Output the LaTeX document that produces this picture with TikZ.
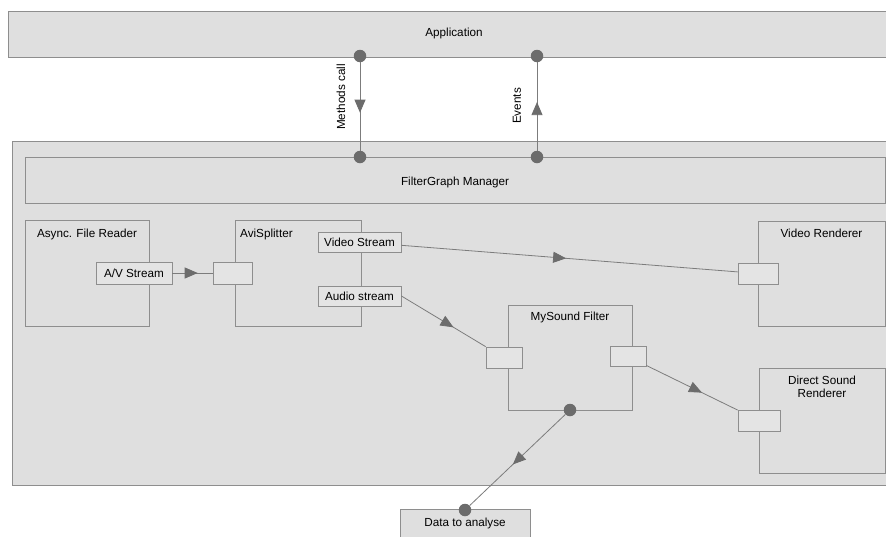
\documentclass[tikz,border=0pt]{standalone}
\usepackage{fontspec}
\setmainfont{Liberation Sans}
\usetikzlibrary{arrows.meta,decorations.markings}

\definecolor{boxgray}{HTML}{DFDFDF}
\definecolor{portgray}{HTML}{E4E4E4}
\definecolor{edgegray}{HTML}{8E8E8E}
\definecolor{linegray}{HTML}{7C7C7C}
\definecolor{dotgray}{HTML}{6C6C6C}

\tikzset{
  box/.style={draw=edgegray, fill=boxgray, line width=0.8pt, inner sep=0pt},
  port/.style={draw=edgegray, fill=portgray, line width=0.8pt, inner sep=0pt},
  title/.style={inner sep=0pt, align=center},
  dot/.style={circle, fill=dotgray, inner sep=0pt, minimum size=12.5pt},
  conn/.style={draw=linegray, line width=0.8pt},
  midarrow/.style={postaction={decorate, decoration={markings,
    mark=at position #1 with {\arrow{Triangle[length=13pt,width=11pt,color=dotgray]}}}}}
}

\begin{document}
\begin{tikzpicture}[x=1pt, y=-1pt, font=\fontsize{11.7pt}{13.5pt}\selectfont]
  \useasboundingbox[fill=white] (0,0) rectangle (886,536);

  % Application and graph frame
  \node[box, minimum width=892, minimum height=46] (app) at (454,34) {};
  \node[title] (appT) at (454,33) {Application};
  \node[box, minimum width=888, minimum height=344] (graph) at (456,313) {};
  \node[box, minimum width=860, minimum height=46] (fgm) at (455,180) {};
  \node[title] (fgmT) at (455,182) {FilterGraph Manager};

  % Filters
  \node[box, minimum width=124, minimum height=106] (reader) at (87,273) {};
  \node[title] (readerT) at (87,234) {Async. File Reader};
  \node[box, minimum width=126, minimum height=106] (splitter) at (298,273) {};
  \node[title, anchor=west] (splitterT) at (240,234) {AviSplitter};
  \node[box, minimum width=127, minimum height=105] (vrend) at (821.5,273.5) {};
  \node[title] (vrendT) at (821.5,233) {Video Renderer};
  \node[box, minimum width=124, minimum height=105] (filter) at (570,357.5) {};
  \node[title] (filterT) at (570,317) {MySound Filter};
  \node[box, minimum width=126, minimum height=105] (dsound) at (822,420.5) {};
  \node[title] (dsoundT) at (822,387) {Direct Sound\\Renderer};
  \node[box, minimum width=130, minimum height=28] (data) at (465,523) {Data to analyse};

  % Pins
  \node[port, minimum width=76, minimum height=22] (avOut) at (134,273) {A/V Stream};
  \node[port, minimum width=39, minimum height=22] (splitIn) at (232.5,273) {};
  \node[port, minimum width=83, minimum height=20] (vidOut) at (359.5,242) {Video Stream};
  \node[port, minimum width=83, minimum height=20] (audOut) at (359.5,296) {Audio stream};
  \node[port, minimum width=40, minimum height=21] (vrIn) at (758,273.5) {};
  \node[port, minimum width=36, minimum height=21] (fIn) at (504,357.5) {};
  \node[port, minimum width=36, minimum height=20] (fOut) at (628,356.5) {};
  \node[port, minimum width=42, minimum height=21] (dsIn) at (759,420.5) {};

  % Interfaces
  \node[dot] (mTop) at (360,56) {};
  \node[dot] (mBot) at (360,157) {};
  \node[dot] (eTop) at (537,56) {};
  \node[dot] (eBot) at (537,157) {};
  \node[dot] (fDot) at (570,410) {};
  \node[dot] (dDot) at (465,510) {};

  \node[title, rotate=90] (mLabel) at (341,97) {Methods call};
  \node[title, rotate=90] (eLabel) at (517,106) {Events};

  % Connections
  \draw[conn, midarrow=0.57] (mTop) -- (mBot);
  \draw[conn, midarrow=0.55] (eBot) -- (eTop);
  \draw[conn, midarrow=0.63] (avOut) -- (splitIn);
  \draw[conn, midarrow=0.49] (vidOut) -- (vrIn);
  \draw[conn, midarrow=0.62] (audOut.east) -- (fIn.north west);
  \draw[conn, midarrow=0.61] (fOut) -- (dsIn);
  \draw[conn, midarrow=0.55] (fDot) -- (dDot);
\end{tikzpicture}
\end{document}
